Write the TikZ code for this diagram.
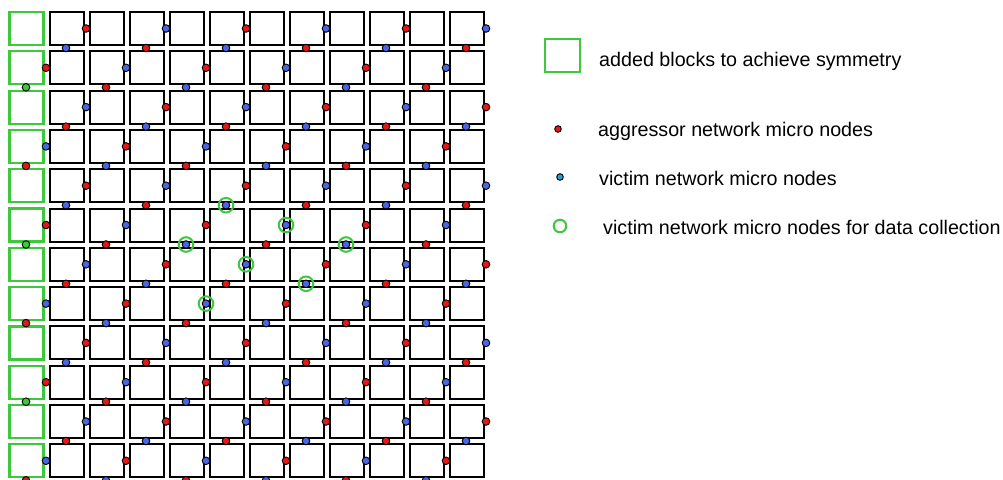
\documentclass[tikz,border=0pt]{standalone}
\usepackage{fontspec}
\setmainfont{Liberation Sans}
\definecolor{aggrred}{RGB}{228,22,22}
\definecolor{victblue}{RGB}{72,102,228}
\definecolor{legblue}{RGB}{30,160,210}
\definecolor{addgreen}{RGB}{62,200,62}
\begin{document}
\begin{tikzpicture}[x=1pt,y=-1pt,
	block/.style={draw=black,line width=2pt},
	addblock/.style={draw=addgreen,line width=2.2pt},
	aggr/.style={draw=black,line width=0.9pt,fill=aggrred},
	vict/.style={draw=black,line width=0.9pt,fill=victblue},
	collect/.style={draw=addgreen,line width=2pt},
	legtext/.style={anchor=base west,inner sep=0pt,font=\fontsize{19.7}{24}\selectfont}]
	\useasboundingbox (0,0) rectangle (1003,479);
	
	% blocks, first column added for symmetry
	\foreach \r in {0,...,11}{
		\draw[addblock] (9.5,12+39.3*\r) rectangle ++(34,33);
		\foreach \c in {1,...,11}
			\draw[block] (9.5+40*\c,12+39.3*\r) rectangle ++(34,33);
	}
	
	% micro nodes between the blocks
	\foreach \r in {0,...,11}
		\foreach \g in {0,...,11}{
			\pgfmathtruncatemacro\s{mod(\g+\r,4)}
			\ifnum\s=1
				\draw[aggr] (46+40*\g,28.5+39.3*\r) circle (3.8pt);
				\ifnum\g=0
					\draw[vict,fill=addgreen] (26+40*\g,48+39.3*\r) circle (3.8pt);
				\else
					\draw[vict] (26+40*\g,48+39.3*\r) circle (3.8pt);
				\fi
			\fi
			\ifnum\s=3
				\draw[vict] (46+40*\g,28.5+39.3*\r) circle (3.8pt);
				\draw[aggr] (26+40*\g,48+39.3*\r) circle (3.8pt);
			\fi
		}
	
	% nodes for data collection
	\foreach \p in {(226,205.2),(286,225),(186,244.5),(346,244.5),(246,264.3),(306,283.8),(206,303.6)}
		\draw[collect] \p circle (7.3pt);
	
	% legend
	\draw[addblock] (545,39) rectangle (580,72);
	\node[legtext] (addtxt) at (599,66) {added blocks to achieve symmetry};
	\draw[aggr] (558,129) circle (3.3pt);
	\node[legtext] (aggrtxt) at (598,136) {aggressor network micro nodes};
	\draw[vict,fill=legblue] (560,177) circle (3.3pt);
	\node[legtext] (victtxt) at (599,185) {victim network micro nodes};
	\draw[collect] (560,226) circle (6.3pt);
	\node[legtext] (colltxt) at (603,234) {victim network micro nodes for data collection};
\end{tikzpicture}
\end{document}
